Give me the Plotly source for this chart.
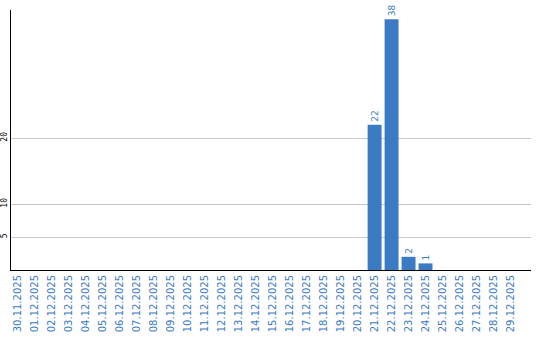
import plotly.graph_objects as go

dates = ["30.11.2025"] + [f"{d:02d}.12.2025" for d in range(1, 30)]
values = [0]*21 + [22, 38, 2, 1] + [0]*5
labels = ["" if v == 0 else str(v) for v in values]
ytick_vals = [5, 10, 20]

blue = "#3a7bc4"

fig = go.Figure(go.Bar(
    x=dates, y=values, text=labels, textposition="outside", textangle=-90,
    marker=dict(color=blue, line=dict(width=0)),
    textfont=dict(family="DejaVu Sans", size=9, color=blue),
    cliponaxis=False,
))
fig.update_layout(
    width=540, height=340,
    margin=dict(l=11, r=9, t=10, b=70, autoexpand=False),
    plot_bgcolor="white", paper_bgcolor="white",
    bargap=0.18, showlegend=False,
    xaxis=dict(type="category", range=[-0.41, 30.21], tickangle=-90,
               tickfont=dict(family="DejaVu Sans", size=10, color=blue),
               showline=True, linecolor="black", linewidth=1, showgrid=False,
               ticks="", ticklen=0, automargin=False),
    yaxis=dict(range=[0, 39.4], tickvals=ytick_vals, tickangle=-90,
               tickfont=dict(family="DejaVu Sans Mono", size=8, color="black"),
               showline=True, linecolor="black", linewidth=1,
               showgrid=True, gridcolor="#c8c8c8", gridwidth=1,
               zeroline=False, ticks="", ticklen=0, automargin=False),
)
fig.write_html("out.html")
